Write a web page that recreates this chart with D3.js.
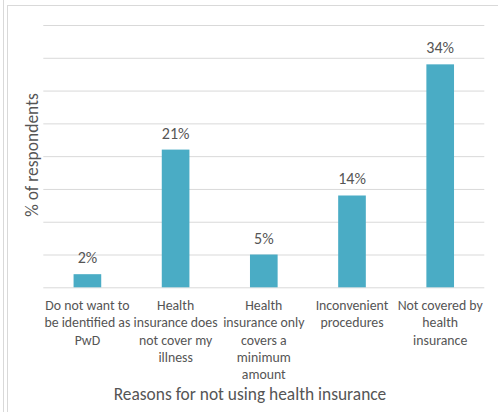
<!DOCTYPE html>
<html>
<head>
<meta charset="utf-8">
<script src="https://cdn.jsdelivr.net/npm/d3@7"></script>
<style>
  html, body { margin: 0; padding: 0; background: #fff; }
  svg { display: block; }
  text { font-family: Carlito, Calibri, Lato, "Open Sans", sans-serif; fill: #555555; }
</style>
</head>
<body>
<svg id="chart" width="498" height="412"></svg>
<script>
const categories = [
  "Do not want to be identified as PwD",
  "Health insurance does not cover my illness",
  "Health insurance only covers a minimum amount",
  "Inconvenient procedures",
  "Not covered by health insurance"
];
const categoryLines = [
  ["Do not want to", "be identified as", "PwD"],
  ["Health", "insurance does", "not cover my", "illness"],
  ["Health", "insurance only", "covers a", "minimum", "amount"],
  ["Inconvenient", "procedures"],
  ["Not covered by", "health", "insurance"]
];
const values = [2, 21, 5, 14, 34];
const valueLabels = ["2%", "21%", "5%", "14%", "34%"];
const yTicks = [0, 5, 10, 15, 20, 25, 30, 35, 40];
const xTitle = "Reasons for not using health insurance";
const yTitle = "% of respondents";

const svg = d3.select("#chart");
const W = 498, H = 412;
const plot = { left: 43.3, right: 484.3, top: 25, bottom: 287.3 };
const grid = "#d9d9d9";

svg.append("rect").attr("width", W).attr("height", H).attr("fill", "#fff");

// outer frame lines
svg.append("line").attr("x1", 3.5).attr("x2", 3.5).attr("y1", 0).attr("y2", H)
  .attr("stroke", grid).attr("stroke-width", 1);
svg.append("line").attr("x1", 7.5).attr("x2", 7.5).attr("y1", 5).attr("y2", H)
  .attr("stroke", grid).attr("stroke-width", 1);
svg.append("line").attr("x1", 7).attr("x2", W).attr("y1", 5.5).attr("y2", 5.5)
  .attr("stroke", grid).attr("stroke-width", 1);

const gap = 2.19;
const p = gap / (1 + gap);
const x = d3.scaleBand().domain(categories)
  .range([plot.left, plot.right]).paddingInner(p).paddingOuter(p / 2);
const y = d3.scaleLinear().domain([0, 40]).range([plot.bottom, plot.top]);

// gridlines via axis
const yAxis = d3.axisLeft(y).tickValues(yTicks)
  .tickSize(-(plot.right - plot.left)).tickFormat("");
const gy = svg.append("g").attr("transform", `translate(${plot.left},0)`).call(yAxis);
gy.select(".domain").remove();
gy.selectAll(".tick line").attr("stroke", grid).attr("stroke-width", 1);

// bars
svg.append("g").selectAll("rect").data(values).join("rect")
  .attr("x", (d, i) => x(categories[i]))
  .attr("width", x.bandwidth())
  .attr("y", d => y(d))
  .attr("height", d => y(0) - y(d))
  .attr("fill", "#4aacc5");

// value labels
svg.append("g").selectAll("text").data(values).join("text")
  .attr("x", (d, i) => x(categories[i]) + x.bandwidth() / 2)
  .attr("y", d => y(d) - 11)
  .attr("text-anchor", "middle")
  .style("font-size", "16px")
  .text((d, i) => valueLabels[i]);

// x axis (category labels)
const xAxis = d3.axisBottom(x).tickSize(0).tickFormat("");
const gx = svg.append("g").attr("transform", `translate(0,${plot.bottom})`).call(xAxis);
gx.select(".domain").remove();
gx.selectAll(".tick").each(function(d, i) {
  const t = d3.select(this).append("text")
    .attr("text-anchor", "middle")
    .style("font-size", "13.8px");
  categoryLines[i].forEach((ln, k) => {
    t.append("tspan").attr("x", 0).attr("y", 23 + k * 17.2).text(ln);
  });
});

// axis titles
svg.append("text")
  .attr("x", 250).attr("y", 400)
  .attr("text-anchor", "middle")
  .style("font-size", "17.4px")
  .text(xTitle);

svg.append("text")
  .attr("transform", "translate(38,155) rotate(-90)")
  .attr("text-anchor", "middle")
  .style("font-size", "17.5px")
  .text(yTitle);
</script>
</body>
</html>
